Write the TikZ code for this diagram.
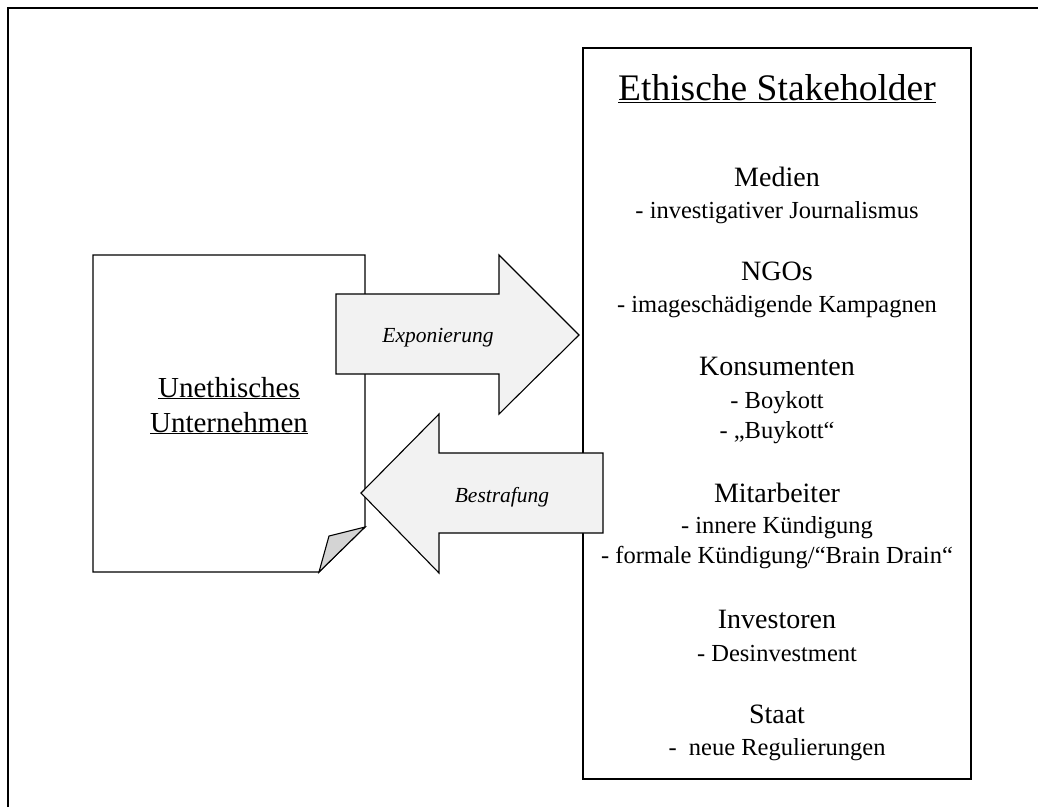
\documentclass[tikz,border=0pt]{standalone}
\usepackage{fontspec}
\setmainfont{Liberation Serif}
\begin{document}
\begin{tikzpicture}[x=1pt,y=-1pt,
  title/.style={anchor=base,inner sep=0pt,font=\fontsize{37.5}{40}\selectfont},
  head/.style={anchor=base,inner sep=0pt,font=\fontsize{28}{30}\selectfont},
  sub/.style={anchor=base,inner sep=0pt,font=\fontsize{24.5}{26}\selectfont},
  doc/.style={anchor=base,inner sep=0pt,font=\fontsize{29}{31}\selectfont},
  arrlabel/.style={anchor=base,inner sep=0pt,font=\fontsize{21.5}{23}\selectfont\itshape},
  outline/.style={draw=black,line width=1.1pt,line join=miter},
  arrowfill/.style={outline,fill=black!5}]
\useasboundingbox (0,0) rectangle (1038,807);
% outer frame
\draw[line width=2pt] (8,807) -- (8,8) -- (1038,8);
% document
\draw[outline,fill=white] (93,255) -- (365,255) -- (365,527) -- (319,572) -- (93,572) -- cycle;
\draw[outline,fill=black!17] (319,572) -- (329,536) -- (365,527) -- cycle;
\node[doc] (u1) at (229,397) {\underline{Unethisches}};
\node[doc] (u2) at (229,432) {\underline{Unternehmen}};
% stakeholder box
\draw[outline,fill=white] (583,48) rectangle (971,779);
\node[title] (t) at (777,100) {\underline{Ethische Stakeholder}};
\node[head] (m) at (777,186) {Medien};
\node[sub] (m1) at (777,218) {- investigativer Journalismus};
\node[head] (n) at (777,280) {NGOs};
\node[sub] (n1) at (777,312) {- imageschädigende Kampagnen};
\node[head] (k) at (777,375) {Konsumenten};
\node[sub] (k1) at (777,408) {- Boykott};
\node[sub] (k2) at (777,438) {- „Buykott“};
\node[head] (mi) at (777,502) {Mitarbeiter};
\node[sub] (mi1) at (777,533) {- innere Kündigung};
\node[sub] (mi2) at (777,563) {- formale Kündigung/“Brain Drain“};
\node[head] (i) at (777,628) {Investoren};
\node[sub] (i1) at (777,661) {- Desinvestment};
\node[head] (s) at (777,723) {Staat};
\node[sub] (s1) at (777,755) {-\ \ neue Regulierungen};
% arrows
\draw[arrowfill] (336,294) -- (499,294) -- (499,255) -- (579,335) -- (499,414) -- (499,374) -- (336,374) -- cycle;
\node[arrlabel] (ex) at (438,342) {Exponierung};
\draw[arrowfill] (603,453) -- (439,453) -- (439,414) -- (361,493) -- (439,573) -- (439,533) -- (603,533) -- cycle;
\node[arrlabel] (be) at (502,502) {Bestrafung};
\end{tikzpicture}
\end{document}
